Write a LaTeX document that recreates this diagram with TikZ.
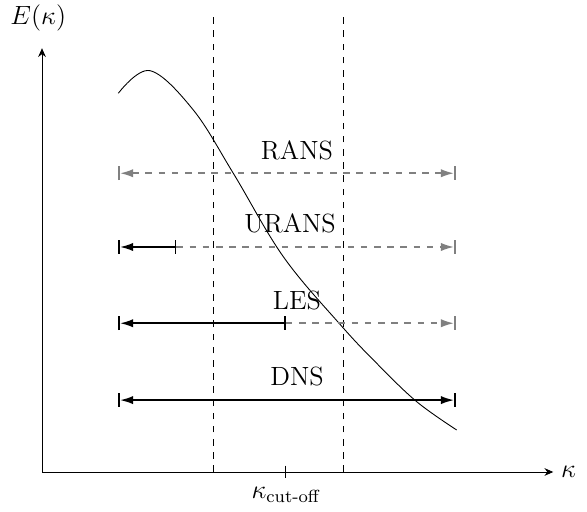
\documentclass[tikz,border=0pt]{standalone}
\usepackage{tikz}
\usetikzlibrary{arrows.meta,positioning}
\usepackage{amsmath}

\begin{document}
\begin{tikzpicture}[>={Latex[length=6pt,width=3.8pt]},
  axis/.style={-{Stealth[length=4pt,width=3.5pt]}},
  model/.style={thick,black},
  rest/.style={thick,gray,dashed},
  lbl/.style={font=\large},
]
  \useasboundingbox (-0.672,-0.64) rectangle (8.72,7.552);

  % axes
  \coordinate (O) at (0,0);
  \coordinate (xend) at (8.18,0);
  \coordinate (yend) at (0,6.78);
  \draw[axis] (O) -- (xend) node[right,lbl] (kx) {$\kappa$};
  \draw[axis] (O) -- (yend);
  \node[lbl] (Ek) at (-0.06,7.26) {$E(\kappa)$};

  % cut-off band
  \coordinate (c1b) at (2.75,0);  \coordinate (c1t) at (2.75,7.31);
  \coordinate (c2b) at (4.82,0);  \coordinate (c2t) at (4.82,7.31);
  \draw[dashed] (c1b) -- (c1t);
  \draw[dashed] (c2b) -- (c2t);
  \coordinate (kc) at (3.9,0);
  \draw (3.9,0.1) -- (3.9,-0.1);
  \node[lbl,below=0.12cm of kc] (kcl) {$\kappa_{\text{cut-off}}$};

  % spectrum
  \draw plot[smooth,tension=0.6] coordinates {(1.221,6.059) (1.728,6.421) (2.421,5.792)
    (3.061,4.779) (3.861,3.445) (4.768,2.363) (5.355,1.739) (5.995,1.125) (6.635,0.672)};

  % RANS
  \coordinate (r1) at (1.22,4.78); \coordinate (r2) at (6.62,4.78);
  \draw[rest,{|<}-{>|}] (r1) -- (r2);
  \node[lbl] (rans) at (4.08,5.15) {RANS};

  % URANS
  \coordinate (u1) at (1.22,3.6); \coordinate (um) at (2.15,3.6); \coordinate (u2) at (6.62,3.6);
  \draw[rest,-{>|}] (um) -- (u2);
  \draw[model,{|<}-|] (u1) -- (um);
  \node[lbl] (urans) at (3.97,3.97) {URANS};

  % LES
  \coordinate (l1) at (1.22,2.38); \coordinate (lm) at (3.9,2.38); \coordinate (l2) at (6.62,2.38);
  \draw[rest,-{>|}] (lm) -- (l2);
  \draw[model,{|<}-|] (l1) -- (lm);
  \node[lbl] (les) at (4.08,2.75) {LES};

  % DNS
  \coordinate (d1) at (1.22,1.15); \coordinate (d2) at (6.62,1.15);
  \draw[model,{|<}-{>|}] (d1) -- (d2);
  \node[lbl] (dns) at (4.08,1.52) {DNS};
\end{tikzpicture}
\end{document}
